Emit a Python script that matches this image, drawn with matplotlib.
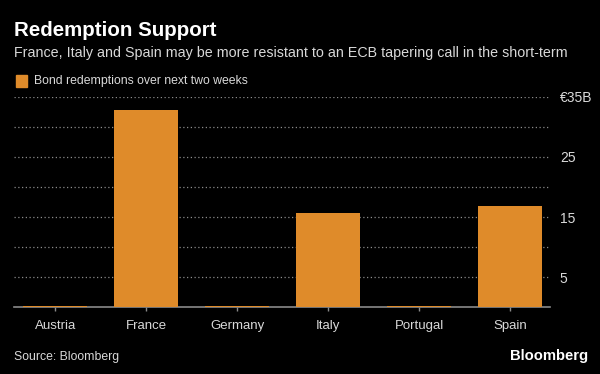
import matplotlib.pyplot as plt
import matplotlib.patches as mpatches

# --- data ---
countries = ['Austria', 'France', 'Germany', 'Italy', 'Portugal', 'Spain']
redemptions = [0.2, 32.8, 0.2, 15.7, 0.2, 16.8]
ytick_vals = [5, 15, 25, 35]
ytick_labels = ['5', '15', '25', '€35B']

ORANGE = '#DF8B2A'
GRID = '#8a8a8a'
TXT = '#d9d9d9'

plt.rcParams['font.family'] = ['Liberation Sans', 'DejaVu Sans']

fig = plt.figure(figsize=(6, 3.74), dpi=100, facecolor='black')
ax = fig.add_axes([0.024, 0.178, 0.893, 0.5631], facecolor='black')

x = range(len(countries))
ax.bar(x, redemptions, width=0.70, color=ORANGE, zorder=3)

ax.set_ylim(0, 35)
ax.set_xlim(-0.45, 5.44)
for v in range(5, 36, 5):
    ax.axhline(v, color=GRID, lw=0.9, ls=(0, (1, 2)), zorder=1)

ax.yaxis.tick_right()
ax.set_yticks(ytick_vals)
ax.set_yticklabels(ytick_labels)
ax.tick_params(axis='y', length=0, pad=7, labelsize=10, labelcolor=TXT)
ax.set_xticks(list(x))
ax.set_xticklabels(countries)
ax.tick_params(axis='x', length=3, width=1, color=GRID, pad=6, labelsize=9.5, labelcolor=TXT)

for s in ['top', 'left', 'right']:
    ax.spines[s].set_visible(False)
ax.spines['bottom'].set_color(GRID)
ax.spines['bottom'].set_linewidth(1.2)
ax.spines['bottom'].set_zorder(2)

renderer = fig.canvas.get_renderer()


def fit(t, width_px):
    # shrink/grow text so it spans the same width as in the original
    w = t.get_window_extent(renderer).width
    t.set_fontsize(t.get_fontsize() * width_px / w)


t = fig.text(0.024, 1 - 36 / 374, 'Redemption Support', color='white', fontsize=15,
             fontweight='bold', va='baseline')
fit(t, 204)
t = fig.text(0.024, 1 - 57 / 374,
             'France, Italy and Spain may be more resistant to an ECB tapering call in the short-term',
             color=TXT, fontsize=11.5, va='baseline')
fit(t, 550)
fig.patches.append(mpatches.Rectangle((16 / 600, 1 - 87 / 374), 11 / 600, 12 / 374,
                                      transform=fig.transFigure, color=ORANGE))
t = fig.text(34 / 600, 1 - 81 / 374, 'Bond redemptions over next two weeks', color=TXT,
             fontsize=10, va='center')
fit(t, 215)
t = fig.text(0.024, 1 - 360 / 374, 'Source: Bloomberg', color=TXT, fontsize=10, va='baseline')
fit(t, 105)
t = fig.text(588 / 600, 1 - 360 / 374, 'Bloomberg', color='white', fontsize=11,
             fontweight='bold', va='baseline', ha='right')
fit(t, 79)

fig.savefig('out.png', dpi=100, facecolor='black')
